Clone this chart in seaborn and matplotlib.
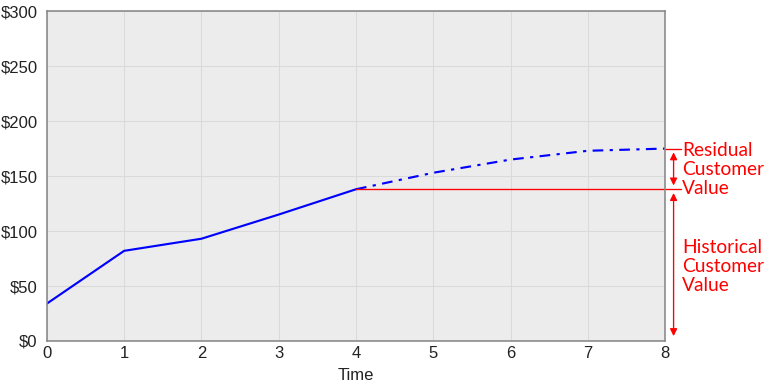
import matplotlib
matplotlib.use("Agg")
import matplotlib.pyplot as plt
import seaborn as sns
import pandas as pd

hist_time = [0, 1, 2, 3, 4]
hist_value = [34, 82, 93, 115, 138]
proj_time = [4, 5, 6, 7, 8]
proj_value = [138, 153, 165, 173, 175]
x_ticks = [0, 1, 2, 3, 4, 5, 6, 7, 8]
y_ticks = [0, 50, 100, 150, 200, 250, 300]
y_labels = ["$" + str(v) for v in y_ticks]

sns.set_style("whitegrid")
plt.rcParams['font.family'] = ['Liberation Sans', 'DejaVu Sans']

hist = pd.DataFrame({'Time': hist_time, 'Value': hist_value})
proj = pd.DataFrame({'Time': proj_time, 'Value': proj_value})

fig = plt.figure(figsize=(8, 4), dpi=96)
ax = fig.add_axes([0.061, 0.112, 0.805, 0.859])
ax.set_facecolor('#ececec')

sns.lineplot(data=hist, x='Time', y='Value', color='#0000ff', linewidth=1.6, ax=ax)
sns.lineplot(data=proj, x='Time', y='Value', color='#0000ff', linewidth=1.6,
             linestyle=(0, (5, 3, 1.5, 3)), ax=ax)

ax.set_xlim(0, 8)
ax.set_ylim(0, 300)
ax.set_xticks(x_ticks)
ax.set_yticks(y_ticks)
ax.set_yticklabels(y_labels)
ax.tick_params(labelsize=12.5, length=0, colors='#222222')
ax.tick_params(axis='y', pad=7)
ax.tick_params(axis='x', pad=4)
ax.set_xlabel('Time', fontsize=12.5, color='#222222', labelpad=5)
ax.set_ylabel('')
ax.grid(color='#dadada', linewidth=0.8)
for s in ax.spines.values():
    s.set_color('#888888')
    s.set_linewidth(1.2)

red = '#ff0000'
hist_end = hist_value[-1]
proj_end = proj_value[-1]
ax.plot([4, 8.2], [hist_end, hist_end], color=red, linewidth=1, clip_on=False)
ax.plot([8, 8.2], [proj_end, proj_end], color=red, linewidth=1, clip_on=False)
xa = 8.11
ax.annotate('', xy=(xa, hist_end + 1), xytext=(xa, proj_end - 1),
            arrowprops=dict(arrowstyle='<|-|>', color=red, lw=1, mutation_scale=11),
            annotation_clip=False)
ax.annotate('', xy=(xa, 2), xytext=(xa, hist_end - 1),
            arrowprops=dict(arrowstyle='<|-|>', color=red, lw=1, mutation_scale=11),
            annotation_clip=False)
ax.text(8.22, 156, 'Residual\nCustomer\nValue', color=red, fontsize=14.3,
        family=['Lato', 'DejaVu Sans'], va='center', ha='left', linespacing=1.15)
ax.text(8.22, 68, 'Historical\nCustomer\nValue', color=red, fontsize=14.3,
        family=['Lato', 'DejaVu Sans'], va='center', ha='left', linespacing=1.15)

fig.savefig('out.png', dpi=96)
